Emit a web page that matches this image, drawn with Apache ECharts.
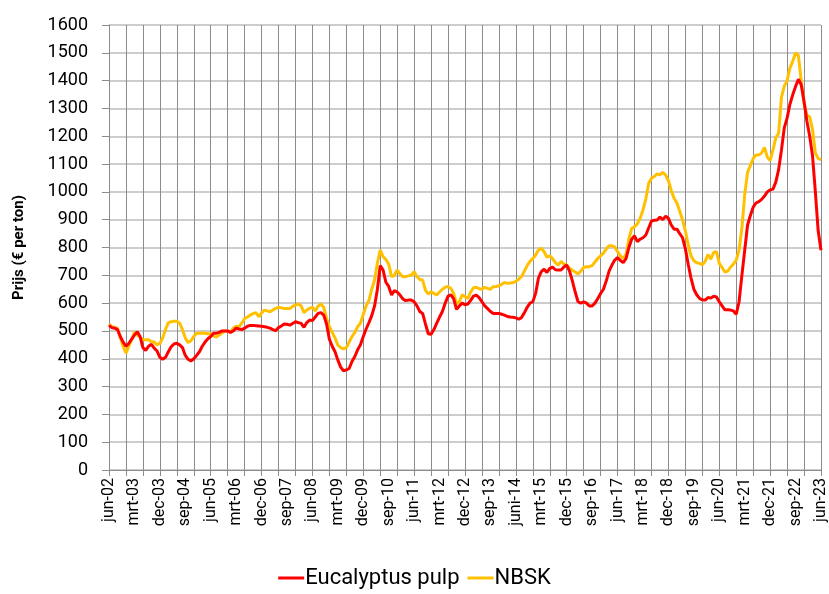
<!DOCTYPE html>
<html>
<head>
<meta charset="utf-8">
<script src="https://cdn.jsdelivr.net/npm/echarts@6/dist/echarts.min.js"></script>
<style>
  html, body { margin: 0; padding: 0; background: #fff; }
  #chart { width: 829px; height: 594px; }
</style>
</head>
<body>
<div id="chart"></div>
<script>
  // maandnamen (start jun-02, t/m jun-23)
  var maanden = ['jan', 'feb', 'mrt', 'apr', 'mei', 'jun', 'jul', 'aug', 'sep', 'okt', 'nov', 'dec'];

  // labels onder de as, om de 9 maanden
  var tickLabels = ['jun-02', 'mrt-03', 'dec-03', 'sep-04', 'jun-05', 'mrt-06', 'dec-06', 'sep-07',
    'jun-08', 'mrt-09', 'dec-09', 'sep-10', 'jun-11', 'mrt-12', 'dec-12', 'sep-13', 'juni-14',
    'mrt-15', 'dec-15', 'sep-16', 'jun-17', 'mrt-18', 'dec-18', 'sep-19', 'jun-20', 'mrt-21',
    'dec-21', 'sep-22', 'jun-23'];

  // Eucalyptus pulp, € per ton, maandelijks
  var eucalyptus = [
    520, 512, 510, 505, 480, 460, 445, 455, 470, 485, 497, 480,
    440, 430, 445, 452, 438, 428, 405, 398, 405, 425, 443, 453,
    456, 450, 440, 412, 398, 392, 400, 412, 425, 445, 460, 472,
    480, 492, 492, 495, 500, 500, 500, 495, 500, 510, 507, 505,
    510, 517, 520, 520, 519, 518, 517, 515, 513, 510, 505, 501,
    512, 518, 525, 524, 521, 527, 533, 530, 527, 513, 530, 539,
    537, 550, 563, 566, 557, 525, 470, 445, 425, 395, 370, 357,
    360, 365, 390, 408, 432, 450, 480, 507, 530, 555, 590, 650,
    735, 719, 675, 660, 629, 645, 640, 629, 615, 609, 611, 611,
    605, 590, 570, 563, 525, 490, 488, 505, 528, 550, 570, 600,
    625, 630, 615, 578, 590, 600, 594, 597, 610, 625, 629, 620,
    605, 590, 580, 570, 563, 563, 563, 560, 557, 552, 550, 549,
    547, 542, 548, 565, 585, 600, 605, 635, 690, 713, 722, 710,
    725, 729, 720, 719, 719, 730, 737, 715, 680, 640, 605, 600,
    605, 600, 590, 590, 600, 617, 635, 650, 680, 715, 737, 755,
    764, 753, 746, 760, 800, 830, 842, 821, 830, 835, 845, 870,
    895, 898, 899, 909, 900, 913, 905, 881, 866, 866, 850, 835,
    795, 740, 690, 650, 630, 617, 612, 611, 620, 618, 625, 622,
    605, 590, 576, 576, 575, 572, 560, 605, 700, 790, 880, 915,
    945, 960, 965, 973, 985, 1000, 1007, 1010, 1035, 1080, 1150, 1230,
    1265, 1315, 1349, 1379, 1405, 1385, 1325, 1255, 1200, 1130, 1000, 860,
    790
  ];

  // NBSK, € per ton, maandelijks
  var nbsk = [
    525, 515, 513, 510, 475, 445, 420, 445, 468, 495, 485, 478,
    468, 468, 468, 462, 460, 450, 455, 475, 505, 530, 533, 535,
    535, 528, 505, 475, 458, 465, 480, 492, 492, 493, 492, 490,
    490, 482, 478, 485, 492, 500, 500, 495, 510, 517, 515, 528,
    545, 550, 557, 562, 566, 551, 565, 575, 572, 569, 575, 581,
    585, 583, 581, 581, 581, 588, 593, 597, 590, 566, 575, 581,
    585, 572, 589, 597, 585, 545, 515, 495, 475, 449, 440, 435,
    440, 460, 480, 495, 515, 528, 560, 590, 610, 650, 683, 745,
    791, 767, 757, 740, 695, 700, 719, 705, 695, 696, 698, 701,
    713, 695, 685, 683, 647, 632, 641, 635, 629, 640, 650, 657,
    660, 653, 635, 598, 605, 630, 623, 617, 640, 655, 657, 652,
    650, 657, 653, 650, 659, 660, 662, 668, 674, 671, 672, 674,
    678, 686, 695, 715, 735, 750, 760, 773, 791, 797, 785, 765,
    770, 760, 745, 737, 750, 740, 737, 725, 718, 712, 705, 715,
    728, 731, 731, 735, 748, 761, 770, 780, 795, 806, 806, 802,
    785, 770, 761, 775, 830, 868, 875, 885, 905, 935, 975, 1030,
    1049, 1055, 1065, 1061, 1070, 1060, 1040, 1005, 977, 960, 930, 900,
    860, 810, 770, 752, 745, 743, 738, 750, 775, 758, 782, 785,
    743, 728, 712, 715, 730, 740, 755, 790, 870, 990, 1070, 1095,
    1120, 1133, 1133, 1140, 1160, 1125, 1113, 1150, 1195, 1210, 1340, 1380,
    1400, 1445, 1470, 1500, 1490, 1400, 1320, 1275, 1270, 1225, 1140, 1120,
    1115
  ];

  var categories = [];
  for (var i = 0; i < eucalyptus.length; i++) {
    var m = (5 + i) % 12;
    var j = 2 + Math.floor((5 + i) / 12);
    categories.push(maanden[m] + '-' + (j < 10 ? '0' + j : '' + j));
  }

  var halfJaar = function (idx) { return idx % 6 === 0; };
  var negenMnd = function (idx) { return idx % 9 === 0; };

  var chart = echarts.init(document.getElementById('chart'), null, { renderer: 'canvas' });

  var option = {
    animation: false,
    textStyle: { fontFamily: 'Roboto' },
    grid: { left: 109, right: 7, top: 25, bottom: 124, containLabel: false },
    legend: {
      bottom: 0,
      left: 'center',
      itemWidth: 26,
      itemHeight: 3,
      itemGap: 8,
      icon: 'rect',
      textStyle: { fontSize: 22, color: '#000', fontFamily: 'Roboto', padding: [0, 0, 0, -4] },
      data: ['Eucalyptus pulp', 'NBSK']
    },
    xAxis: {
      type: 'category',
      data: categories,
      boundaryGap: false,
      axisLine: { lineStyle: { color: '#8c8c8c', width: 1 } },
      axisTick: { interval: halfJaar, length: 6, lineStyle: { color: '#8c8c8c' } },
      splitLine: { show: true, interval: halfJaar, lineStyle: { color: '#8c8c8c', width: 1 } },
      axisLabel: {
        interval: negenMnd,
        rotate: 90,
        fontSize: 16,
        color: '#000',
        margin: 8,
        formatter: function (val, idx) { return tickLabels[idx / 9] || ''; }
      }
    },
    yAxis: {
      type: 'value',
      min: 0,
      max: 1600,
      interval: 100,
      name: 'Prijs (€ per ton)',
      nameLocation: 'middle',
      nameGap: 82,
      nameTextStyle: { fontSize: 15, fontWeight: 'bold', color: '#000' },
      axisLine: { show: true, lineStyle: { color: '#8c8c8c' } },
      axisTick: { show: true, length: 7, lineStyle: { color: '#8c8c8c' } },
      splitLine: { lineStyle: { color: '#bdbdbd', width: 1.5 } },
      axisLabel: {
        fontSize: 18,
        color: '#000',
        margin: 21,
        formatter: function (v) { return String(v); }
      }
    },
    series: [
      {
        name: 'Eucalyptus pulp',
        type: 'line',
        data: eucalyptus,
        showSymbol: false,
        smooth: false,
        lineStyle: { color: '#ff0000', width: 3 },
        itemStyle: { color: '#ff0000' },
        z: 3
      },
      {
        name: 'NBSK',
        type: 'line',
        data: nbsk,
        showSymbol: false,
        smooth: false,
        lineStyle: { color: '#ffc000', width: 3 },
        itemStyle: { color: '#ffc000' },
        z: 2
      }
    ]
  };

  chart.setOption(option);
</script>
</body>
</html>
